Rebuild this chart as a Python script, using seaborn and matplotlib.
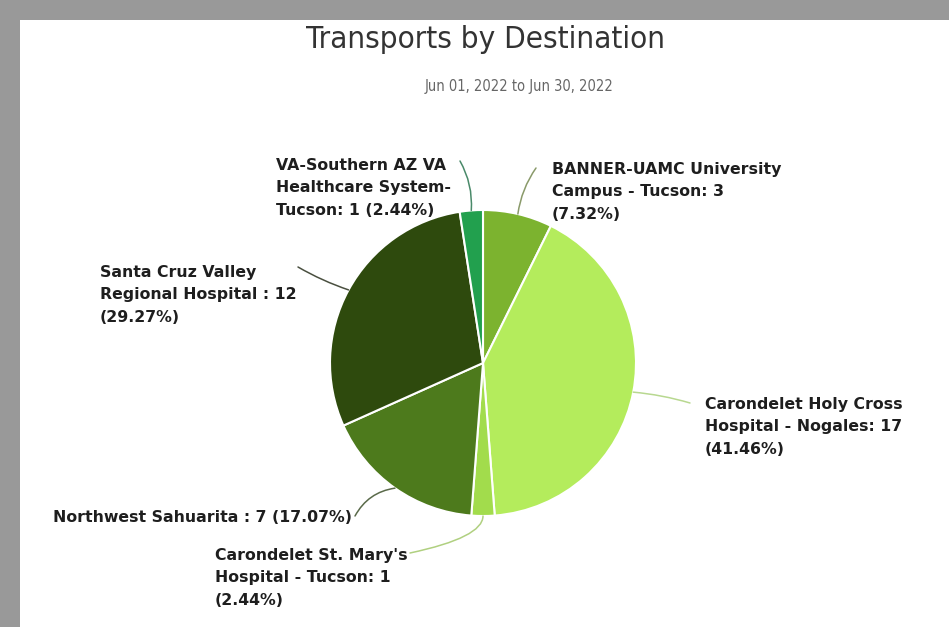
import matplotlib
matplotlib.use("Agg")
import matplotlib.pyplot as plt
import seaborn as sns
import numpy as np
from matplotlib.patches import Rectangle

sns.set_theme(style="white")
plt.rcParams['font.family'] = ['DejaVu Sans']

# ---- data ----
destinations = [
    "BANNER-UAMC University\nCampus - Tucson: 3\n(7.32%)",
    "Carondelet Holy Cross\nHospital - Nogales: 17\n(41.46%)",
    "Carondelet St. Mary's\nHospital - Tucson: 1\n(2.44%)",
    "Northwest Sahuarita : 7 (17.07%)",
    "Santa Cruz Valley\nRegional Hospital : 12\n(29.27%)",
    "VA-Southern AZ VA\nHealthcare System-\nTucson: 1 (2.44%)",
]
counts = [3, 17, 1, 7, 12, 1]
colors = ["#7cb32f", "#b4ec5c", "#a2dc4c", "#4d7a1c", "#2e4a0d", "#22a04e"]
line_colors = ["#8a9a6a", "#b8d890", "#b0d080", "#5a6a4a", "#4a5040", "#4a8a6a"]

title = "Transports by Destination"
subtitle = "Jun 01, 2022 to Jun 30, 2022"

W, H = 949, 627
fig = plt.figure(figsize=(W / 100, H / 100), dpi=100)
fig.patch.set_facecolor("#999999")
bg = Rectangle((20 / W, 0), 1 - 20 / W, 1 - 20 / H, transform=fig.transFigure,
               facecolor="white", edgecolor="none", zorder=-10)
fig.add_artist(bg)

def fx(x):
    return x / W

def fy(y):
    return 1 - y / H

fig.text(fx(485), fy(40), title, ha="center", va="center", fontsize=22.5, color="#333333",
         fontstretch="condensed")
fig.text(fx(519), fy(87), subtitle, ha="center", va="center", fontsize=10.5, color="#666666",
         fontstretch="condensed")

cx, cy, r = 483, 363, 153
ax = fig.add_axes([fx(cx - r), fy(cy + r), 2 * r / W, 2 * r / H])
ax.set_zorder(5)
ax.patch.set_alpha(0)
wedges, _ = ax.pie(counts, colors=colors, startangle=90, counterclock=False,
                   wedgeprops=dict(edgecolor="white", linewidth=1.5))
ax.set_xlim(-1, 1)
ax.set_ylim(-1, 1)
ax.set_aspect("equal")
ax.axis("off")

# label layout (pixel positions)
label_pos = [
    (552, 162, "left", "top"),
    (705, 397, "left", "top"),
    (215, 548, "left", "top"),
    (53, 518, "left", "center"),
    (100, 265, "left", "top"),
    (276, 158, "left", "top"),
]
line_end = [(536, 168), (690, 403), (410, 553), (355, 516), (298, 267), (460, 161)]
conn = [
    "arc3,rad=0.12",
    "arc3,rad=0.05",
    "angle3,angleA=12,angleB=90",
    "arc3,rad=-0.25",
    "arc3,rad=0.05",
    "arc3,rad=-0.15",
]

total = sum(counts)
cum = 0
for i, (w, c) in enumerate(zip(wedges, counts)):
    mid = cum + c / 2
    cum += c
    ang = np.deg2rad(90 - 360 * mid / total)
    px, py = np.cos(ang), np.sin(ang)
    lx, ly, ha, va = label_pos[i]
    fig.text(fx(lx), fy(ly), destinations[i], ha=ha, va=va, fontsize=11.3, fontweight="bold",
             color="#1e1e1e", linespacing=1.62, zorder=6)
    ex, ey = line_end[i]
    ax.annotate("", xy=(px, py), xycoords="data",
                xytext=(ex, H - ey), textcoords="figure pixels",
                arrowprops=dict(arrowstyle="-", color=line_colors[i], lw=1.1,
                                connectionstyle=conn[i],
                                shrinkA=0, shrinkB=0),
                annotation_clip=False)

fig.savefig("out.png", dpi=100)
